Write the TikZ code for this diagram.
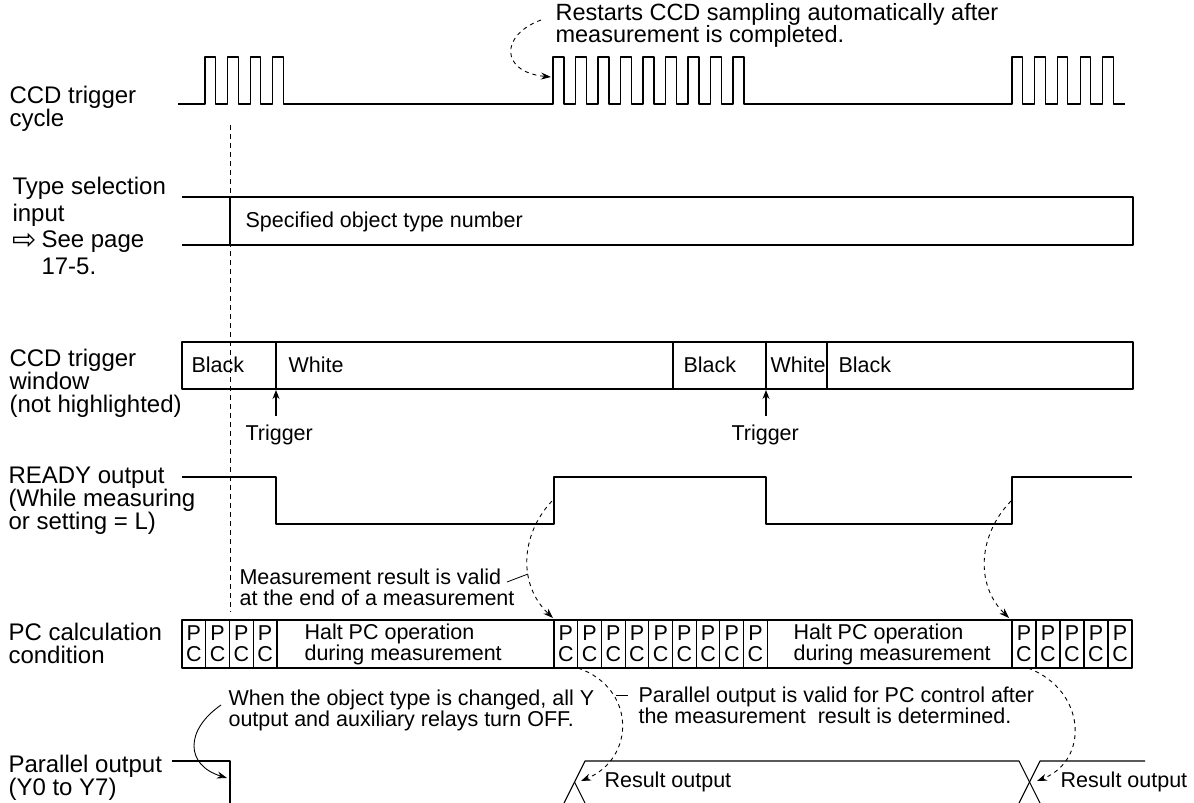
\documentclass[tikz,border=0pt]{standalone}
\usepackage{fontspec}
\setmainfont{Liberation Sans}
\newfontfamily\symfont{DejaVu Sans}
\usetikzlibrary{arrows.meta}
\tikzset{
  lbl/.style={anchor=west,inner sep=0pt,align=left,font=\fontsize{24}{23}\selectfont},
  note/.style={anchor=west,inner sep=0pt,align=left,font=\fontsize{21.5}{21}\selectfont},
  dasharrow/.style={->,line width=0.9pt,dash pattern=on 4pt off 4pt},
  leader/.style={line width=0.8pt},
}
\begin{document}
\begin{tikzpicture}[x=1pt,y=-1pt,>={Stealth[length=10pt,width=7pt]},line width=1.1pt,line join=round]
	\def\lo{104} \def\hi{57} % CCD levels
	\def\rh{477} \def\rl{524} % READY levels
	\useasboundingbox (0,0) rectangle (1194,803);
	\fill[white] (0,0) rectangle (1194,803);
	% CCD trigger cycle
	\node[lbl] (lblcyc) at (9,108.5) {CCD trigger\\cycle};
	\draw (178,\lo)
		\foreach \i in {0,...,3}{ -- ({205+22.6*\i},\lo) -- ({205+22.6*\i},\hi) -- ({215.5+22.6*\i},\hi) -- ({215.5+22.6*\i},\lo)}
		\foreach \i in {0,...,8}{ -- ({553+22.5*\i},\lo) -- ({553+22.5*\i},\hi) -- ({564+22.5*\i},\hi) -- ({564+22.5*\i},\lo)}
		\foreach \i in {0,...,4}{ -- ({1012+22.7*\i},\lo) -- ({1012+22.7*\i},\hi) -- ({1022.5+22.7*\i},\hi) -- ({1022.5+22.7*\i},\lo)}
		-- (1125,\lo);
	\node[note,font=\fontsize{23.5}{22}\selectfont] (restart) at (555,25) {Restarts CCD sampling automatically after\\measurement is completed.};
	\coordinate (rsfrom) at (541,20);
	\coordinate (rsto) at (551,77);
	\draw[dasharrow] (rsfrom) .. controls (500,35) and (500,72) .. (rsto);
	% start of measurement
	\draw[line width=0.8pt,dash pattern=on 5pt off 4pt] (230,125) -- (230,612);
	% type selection input
	\node[lbl,font=\fontsize{24}{26.5}\selectfont] (lbltype) at (12,226) {Type selection\\input\\\makebox[29pt][l]{\smash{\raisebox{-1.5pt}{\symfont\fontsize{29}{29}\selectfont ⇨}}}See page\\\hspace*{29pt}17-5.};
	\draw (182,197) -- (1133,197) -- (1133,245) -- (182,245);
	\draw (230,197) -- (230,245);
	\node[note] (typeno) at (245,222) {Specified object type number};
	% CCD trigger window
	\node[lbl] (lblwin) at (9,383) {CCD trigger\\window\\(not highlighted)};
	\draw (182,342) rectangle (1133,389);
	\foreach \x in {276,673,766,827} \draw (\x,342) -- (\x,389);
	\node[note] (win1) at (191,365) {Black};
	\node[note] (win2) at (288,365) {White};
	\node[note] (win3) at (683,365) {Black};
	\node[note] (win4) at (770,365) {White};
	\node[note] (win5) at (838,365) {Black};
	\node[note] (trig1) at (245,435) {Trigger};
	\node[note] (trig2) at (731,435) {Trigger};
	\coordinate (tr1) at (276,390);
	\coordinate (tr2) at (766,390);
	\draw[->,>={Stealth[length=9pt,width=7pt]}] (276,416) -- (tr1);
	\draw[->,>={Stealth[length=9pt,width=7pt]}] (766,416) -- (tr2);
	% READY output
	\node[lbl] (lblrdy) at (8,501) {READY output\\(While measuring\\or setting = L)};
	\draw (182,\rh) -- (276,\rh) -- (276,\rl) -- (554,\rl) -- (554,\rh) -- (766,\rh) -- (766,\rl) -- (1012,\rl) -- (1012,\rh) -- (1132,\rh);
	\node[note] (valid) at (239,587) {Measurement result is valid\\at the end of a measurement};
	\coordinate (rdy1) at (552,501);
	\coordinate (pcin1) at (553,618);
	\coordinate (rdy2) at (1011,501);
	\coordinate (pcin2) at (1009,618);
	\draw[dasharrow] (rdy1) .. controls (520,535) and (518,585) .. (pcin1);
	\draw[dasharrow] (rdy2) .. controls (978,535) and (975,585) .. (pcin2);
	\draw[leader] (507,582) -- (528,574);
	% PC calculation condition
	\node[lbl] (lblpc) at (8,643) {PC calculation\\condition};
	\draw (182,620) rectangle (1132,668);
	\foreach \i in {0,...,3}{
		\draw ({182+23.75*(\i+1)},620) -- ++(0,48);
		\node[note,anchor=center,align=center] (pca\i) at ({193.9+23.75*\i},644) {P\\C};
	}
	\foreach \i in {0,...,8}{
		\draw ({554+23.7*\i},620) -- ++(0,48);
		\node[note,anchor=center,align=center] (pcb\i) at ({565.9+23.7*\i},644) {P\\C};
	}
	\draw (767.3,620) -- ++(0,48);
	\foreach \i in {0,...,4}{
		\draw ({1012+24*\i},620) -- ++(0,48);
		\node[note,anchor=center,align=center] (pcc\i) at ({1024+24*\i},644) {P\\C};
	}
	\node[note] (halt1) at (304,644) {Halt PC operation\\during measurement};
	\node[note] (halt2) at (793,644) {Halt PC operation\\during measurement};
	% notes under PC row
	\node[note] (ychange) at (228,710) {When the object type is changed, all Y\\output and auxiliary relays turn OFF.};
	\node[note] (parvalid) at (638,705) {Parallel output is valid for PC control after\\the measurement\ \ result is determined.};
	\draw[leader] (616,695) -- (628,695);
	\coordinate (ycfrom) at (221,705);
	\coordinate (ycto) at (227,778);
	\draw[->,line width=0.9pt] (ycfrom) .. controls (185,730) and (185,765) .. (ycto);
	\coordinate (pcout1) at (578,668);
	\coordinate (pcout2) at (1028,668);
	\coordinate (x1) at (581,781);
	\coordinate (x2) at (1037,781);
	\draw[dasharrow] (pcout1) .. controls (636,688) and (636,758) .. (x1);
	\draw[dasharrow] (pcout2) .. controls (1086,690) and (1090,760) .. (x2);
	% parallel output
	\node[lbl] (lblpar) at (8,778) {Parallel output\\(Y0 to Y7)};
	\draw (172,761) -- (230,761) -- (230,803);
	\draw (564,803) -- (585,761) -- (1019,761) -- (1040,803);
	\draw (574.5,782) -- (585,803);
	\draw (1019,803) -- (1040,761) -- (1145,761);
	\node[note] (res1) at (604,782) {Result output};
	\node[note] (res2) at (1060,782) {Result output};
\end{tikzpicture}
\end{document}
